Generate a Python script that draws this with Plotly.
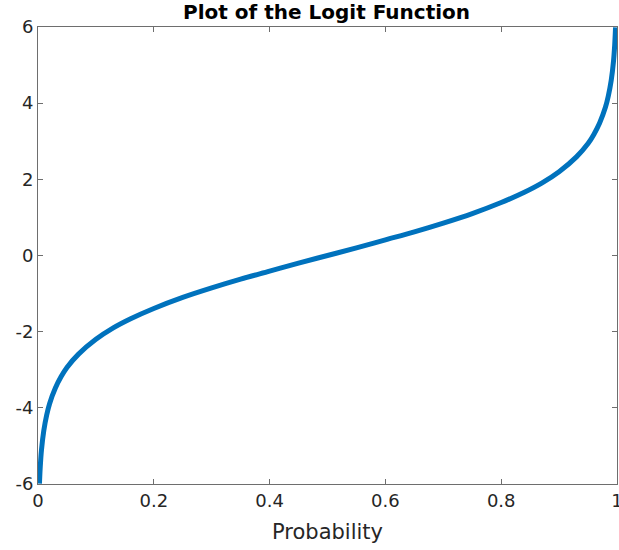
import plotly.graph_objects as go

# Probability values (x) and logit values (y)
prob = [0.0025, 0.004, 0.006, 0.01, 0.015, 0.02, 0.03, 0.04, 0.05, 0.07,
        0.10, 0.13, 0.16, 0.20, 0.25, 0.30, 0.35, 0.40, 0.45, 0.50,
        0.55, 0.60, 0.65, 0.70, 0.75, 0.80, 0.84, 0.87, 0.90, 0.93,
        0.95, 0.96, 0.97, 0.98, 0.985, 0.99, 0.994, 0.996, 0.9975]
logit = [-5.99, -5.52, -5.11, -4.60, -4.19, -3.89, -3.48, -3.18, -2.94, -2.59,
         -2.20, -1.90, -1.66, -1.39, -1.10, -0.85, -0.62, -0.41, -0.20, 0.00,
         0.20, 0.41, 0.62, 0.85, 1.10, 1.39, 1.66, 1.90, 2.20, 2.59,
         2.94, 3.18, 3.48, 3.89, 4.19, 4.60, 5.11, 5.52, 5.99]

x_ticks = [0, 0.2, 0.4, 0.6, 0.8, 1]
x_tick_labels = ["0", "0.2", "0.4", "0.6", "0.8", "1"]
y_ticks = [-6, -4, -2, 0, 2, 4, 6]
y_tick_labels = ["-6", "-4", "-2", "0", "2", "4", "6"]

FONT = "DejaVu Sans, Liberation Sans, Arial, sans-serif"

fig = go.Figure()
fig.add_trace(go.Scatter(x=prob, y=logit, mode="lines",
                         line=dict(color="#0072BD", width=5, shape="spline"),
                         showlegend=False, hoverinfo="skip"))

axis_common = dict(showgrid=False, zeroline=False, showline=True, linecolor="#6e6e6e",
                   linewidth=1, mirror="ticks", ticks="inside", ticklen=5,
                   tickcolor="#6e6e6e", ticklabeloverflow="allow", automargin=False,
                   tickfont=dict(size=18, color="#262626", family=FONT))

fig.update_layout(
    width=619, height=550,
    margin=dict(l=38, r=2, t=27, b=66),
    paper_bgcolor="white", plot_bgcolor="white",
    title=dict(text="<b>Plot of the Logit Function</b>", x=0.5275, xanchor="center",
               y=0.978, yanchor="middle",
               font=dict(size=20, color="black", family=FONT)),
    xaxis=dict(range=[0, 1], tickvals=x_ticks, ticktext=x_tick_labels,
               title=dict(text="Probability", standoff=14,
                          font=dict(size=21, color="#262626", family=FONT)),
               **axis_common),
    yaxis=dict(range=[-6, 6], tickvals=y_ticks, ticktext=y_tick_labels, **axis_common),
)

fig.write_html("out.html", config={"displayModeBar": False},
               post_script="document.body.style.margin='0';")
